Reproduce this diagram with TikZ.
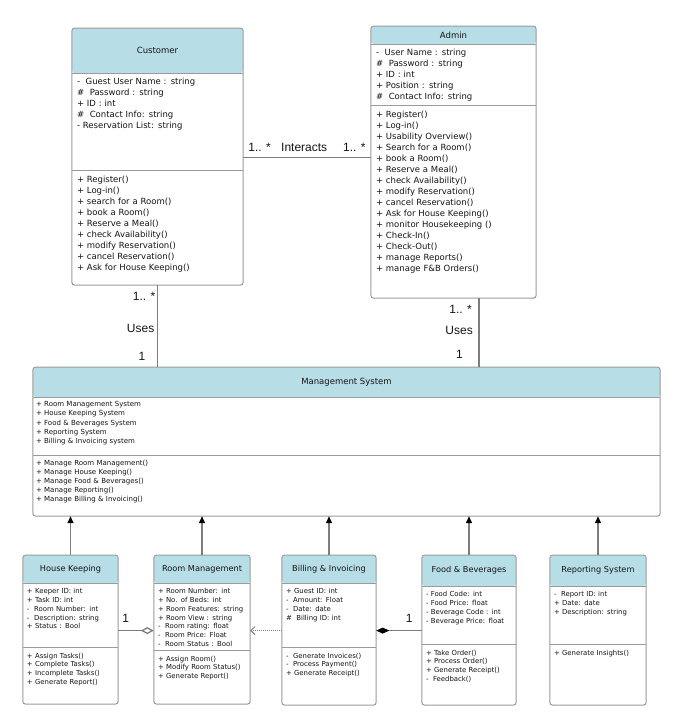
\documentclass[tikz,border=0pt]{standalone}
\usepackage{fontspec}
\setmainfont{DejaVu Sans}
\newfontfamily\arialfont{Liberation Sans}
\usetikzlibrary{arrows.meta}
\usetikzlibrary{positioning}
\definecolor{fg}{RGB}{20,20,20}
\definecolor{hdrblue}{RGB}{183,221,231}
\definecolor{edge}{RGB}{155,155,155}
\definecolor{wire}{RGB}{125,125,125}
\tikzstyle{hdr}=[fill=hdrblue, rounded corners=3pt, anchor=north, inner sep=0pt,
text=fg, font=\fontsize{8.5}{10}\selectfont]
\tikzstyle{subhdr}=[hdr, font=\fontsize{8.2}{10}\selectfont]
\tikzstyle{sect}=[fill=white, anchor=north, align=left, inner xsep=5pt, inner ysep=3pt,
text height=8pt, text=fg, font=\fontsize{8.5}{11}\selectfont]
\tikzstyle{small}=[sect, inner xsep=3pt, text height=6pt, font=\fontsize{7}{9.2}\selectfont]
\tikzstyle{tiny}=[sect, inner xsep=4pt, text height=7pt, font=\fontsize{6.9}{8.8}\selectfont]
\tikzstyle{frame}=[draw=edge, line width=1pt, rounded corners=3pt]
\tikzstyle{lbl}=[text=fg, inner sep=0pt, font=\arialfont\fontsize{12}{14}\selectfont]
\tikzstyle{assoc}=[draw=wire, line width=1.3pt]
\tikzstyle{inh}=[assoc, -{Triangle[length=7pt,width=6pt,color=black]}]
\tikzstyle{aggr}=[assoc, -{Diamond[open,length=13pt,width=7pt]}]
\tikzstyle{comp}=[assoc, -{Diamond[length=13pt,width=6pt,color=black]}]
\tikzstyle{dep}=[draw=wire, line width=1pt, densely dotted, -{Straight Barb[length=4pt,width=8pt]}]

\begin{document}
\begin{tikzpicture}[x=1pt, y=-1pt]
    \useasboundingbox (0,0) rectangle (682,726);

    % customer
    \node[hdr, minimum width=171pt, minimum height=45pt] (cust) at (157.5,28) {Customer};
    \node[sect, text width=161pt, text depth=83pt, below=0pt of cust] (cust-a) {-\ \ Guest User Name : string\\\#\ \ Password : string\\+ ID : int\\\#\ \ Contact Info: string\\- Reservation List: string};
    \node[sect, text width=161pt, text depth=100pt, below=0pt of cust-a] (cust-o) {+ Register()\\+ Log-in()\\+ search for a Room()\\+ book a Room()\\+ Reserve a Meal()\\+ check Availability()\\+ modify Reservation()\\+ cancel Reservation()\\+ Ask for House Keeping()};

    % admin
    \node[hdr, minimum width=165pt, minimum height=18pt] (admin) at (453.5,26) {Admin};
    \node[sect, text width=155pt, text depth=47pt, below=0pt of admin] (admin-a) {-\ \ User Name : string\\\#\ \ Password : string\\+ ID : int\\+ Position : string\\\#\ \ Contact Info: string};
    \node[sect, text width=155pt, text depth=178pt, below=0pt of admin-a] (admin-o) {+ Register()\\+ Log-in()\\+ Usability Overview()\\+ Search for a Room()\\+ book a Room()\\+ Reserve a Meal()\\+ check Availability()\\+ modify Reservation()\\+ cancel Reservation()\\+ Ask for House Keeping()\\+ monitor Housekeeping ()\\+ Check-In()\\+ Check-Out()\\+ manage Reports()\\+ manage F\&B Orders()};

    % management system
    \node[hdr, minimum width=627pt, minimum height=30pt] (mgmt) at (346.5,367) {Management System};
    \node[small, text width=621pt, text depth=46pt, below=0pt of mgmt] (mgmt-a) {+ Room Management System\\+ House Keeping System\\+ Food \& Beverages System\\+ Reporting System\\+ Billing \& Invoicing system};
    \node[small, text width=621pt, text depth=48pt, below=0pt of mgmt-a] (mgmt-o) {+ Manage Room Management()\\+ Manage House Keeping()\\+ Manage Food \& Beverages()\\+ Manage Reporting()\\+ Manage Billing \& Invoicing()};

    % subsystems
    \node[subhdr, minimum width=95pt, minimum height=28pt] (hk) at (70.5,555) {House Keeping};
    \node[tiny, text width=87pt, text depth=51pt, below=0pt of hk] (hk-a) {+ Keeper ID: int\\+ Task ID: int\\-\ \ Room Number: int\\-\ \ Description: string\\+ Status : Bool};
    \node[tiny, text width=87pt, text depth=43pt, below=0pt of hk-a] (hk-o) {+ Assign Tasks()\\+ Complete Tasks()\\+ Incomplete Tasks()\\+ Generate Report()};

    \node[subhdr, minimum width=96pt, minimum height=28pt] (room) at (202,555) {Room Management};
    \node[tiny, text width=88pt, text depth=54pt, below=0pt of room] (room-a) {+ Room Number: int\\+ No. of Beds: int\\+ Room Features: string\\+ Room View : string\\-\ \ Room rating: float\\-\ \ Room Price: Float\\-\ \ Room Status : Bool};
    \node[tiny, text width=88pt, text depth=40pt, below=0pt of room-a] (room-o) {+ Assign Room()\\+ Modify Room Status()\\+ Generate Report()};

    \node[subhdr, minimum width=94pt, minimum height=28pt] (bill) at (329,555) {Billing \& Invoicing};
    \node[tiny, text width=86pt, text depth=51pt, below=0pt of bill] (bill-a) {+ Guest ID: int\\-\ \ Amount: Float\\-\ \ Date: date\\\#\ \ Billing ID: int};
    \node[tiny, text width=86pt, text depth=44pt, below=0pt of bill-a] (bill-o) {-\ \ Generate Invoices()\\-\ \ Process Payment()\\+ Generate Receipt()};

    \node[subhdr, minimum width=94pt, minimum height=31pt] (food) at (469,555) {Food \& Beverages};
    \node[tiny, text width=86pt, text depth=45pt, below=0pt of food] (food-a) {- Food Code: int\\- Food Price: float\\- Beverage Code : int\\- Beverage Price: float};
    \node[tiny, text width=86pt, text depth=47pt, below=0pt of food-a] (food-o) {+ Take Order()\\+ Process Order()\\+ Generate Receipt()\\-\ \ Feedback()};

    \node[subhdr, minimum width=96pt, minimum height=31pt] (rep) at (598,555) {Reporting System};
    \node[tiny, text width=88pt, text depth=45pt, below=0pt of rep] (rep-a) {-\ \ Report ID: int\\+ Date: date\\+ Description: string};
    \node[tiny, text width=88pt, text depth=47pt, below=0pt of rep-a] (rep-o) {+ Generate Insights()};

    \foreach \c in {cust,admin,mgmt,hk,room,bill,food,rep} {
        \draw[frame] (\c.north west) rectangle (\c-o.south east);
        \draw[frame] (\c-a.north west) -- (\c-a.north east);
        \draw[frame] (\c-o.north west) -- (\c-o.north east);
    }

    % interacts
    \coordinate (ia) at ([yshift=13pt]cust-a.south east);
    \coordinate (ib) at (ia -| admin-o.west);
    \draw[assoc] (ia) -- (ib);
    \node[lbl, anchor=base west] (ia-m) at ([shift={(5pt,6pt)}]ia) {1.. *};
    \node[lbl, anchor=base] (ia-t) at ([shift={(61pt,6pt)}]ia) {Interacts};
    \node[lbl, anchor=base east] (ib-m) at ([shift={(-5pt,6pt)}]ib) {1.. *};

    % uses
    \draw[assoc] (cust-o.south) -- (cust-o.south |- mgmt.north);
    \node[lbl, anchor=base east] (cu-m) at ([shift={(-2pt,-15pt)}]cust-o.south) {1.. *};
    \node[lbl, anchor=base east] (cu-t) at ([shift={(-3pt,-47pt)}]cust-o.south) {Uses};
    \node[lbl, anchor=base east] (cu-1) at ([shift={(-12pt,-75pt)}]cust-o.south) {1};

    \coordinate (au) at ([xshift=25.5pt]admin-o.south);
    \draw[assoc] (au) -- (au |- mgmt.north);
    \node[lbl, anchor=base east] (au-m) at ([shift={(-7pt,-15.5pt)}]au) {1.. *};
    \node[lbl, anchor=base east] (au-t) at ([shift={(-6pt,-36.5pt)}]au) {Uses};
    \node[lbl, anchor=base east] (au-1) at ([shift={(-16pt,-60.5pt)}]au) {1};

    % subsystems to management
    \foreach \c in {hk,room,bill,food,rep}
        \draw[inh] (\c.north) -- (\c.north |- mgmt-o.south);

    \coordinate (ag) at ([yshift=-15pt]hk-a.east);
    \draw[aggr] (ag) -- (ag -| room-a.west);
    \node[lbl, anchor=base west] (ag-1) at ([shift={(4pt,8.5pt)}]ag) {1};

    \coordinate (dp) at (bill-a.west |- ag);
    \draw[dep] (dp) -- (dp -| room-a.east);

    \coordinate (cp) at (food-a.west |- ag);
    \draw[comp] (cp) -- (cp -| bill-a.east);
    \node[lbl, anchor=base east] (cp-1) at ([shift={(-9pt,8pt)}]cp) {1};

\end{tikzpicture}
\end{document}
